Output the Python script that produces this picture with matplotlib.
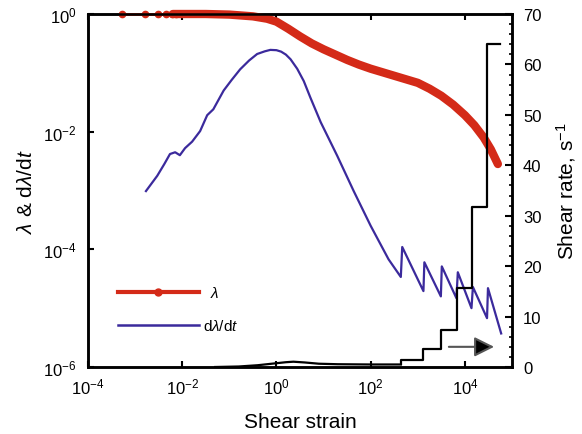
import numpy as np
import matplotlib
matplotlib.use("Agg")
import matplotlib.pyplot as plt
from matplotlib.lines import Line2D

plt.rcParams['font.family'] = ['Liberation Sans', 'DejaVu Sans']
plt.rcParams['mathtext.fontset'] = 'custom'
plt.rcParams['mathtext.rm'] = 'Liberation Sans'
plt.rcParams['mathtext.it'] = 'Liberation Sans:italic'
plt.rcParams['mathtext.bf'] = 'Liberation Sans:bold'

# ---- data (log10 values) ----
# lambda: sparse early samples (markers) and dense part (thick band)
lam_mark_strain = [5.2e-4, 1.6e-3, 3.1e-3, 4.6e-3, 6.2e-3, 7.4e-3]
lam_logx = [-3.28, -2.5, -2.2, -1.5, -1.0, -0.5, -0.2, 0.0, 0.25, 0.5, 0.75,
            1.0, 1.25, 1.5, 1.75, 2.0, 2.5, 3.0, 3.25, 3.5, 3.75, 4.0, 4.2, 4.4, 4.55, 4.7]
lam_logy = [0.0, 0.0, 0.0, 0.0, -0.01, -0.04, -0.08, -0.13, -0.25, -0.38, -0.5,
            -0.6, -0.69, -0.78, -0.86, -0.93, -1.05, -1.17, -1.27, -1.39, -1.54, -1.72,
            -1.89, -2.1, -2.3, -2.55]

# dlambda/dt
dl_logx = [-2.77, -2.53, -2.38, -2.26, -2.15, -2.05, -1.94, -1.79, -1.62, -1.47,
           -1.34, -1.12, -0.95, -0.77, -0.58, -0.41, -0.25, -0.13, 0.0, 0.1,
           0.2, 0.3, 0.44, 0.58, 0.72, 0.94, 1.29, 1.64, 2.0, 2.38, 2.64,
           2.67, 3.12, 3.14, 3.49, 3.51, 3.82, 3.85, 4.14, 4.17, 4.47, 4.49, 4.77]
dl_logy = [-3.01, -2.75, -2.55, -2.38, -2.35, -2.40, -2.28, -2.17, -1.99, -1.72,
           -1.62, -1.30, -1.12, -0.94, -0.79, -0.68, -0.635, -0.61, -0.615, -0.64,
           -0.69, -0.77, -0.93, -1.14, -1.42, -1.84, -2.41, -3.01, -3.60, -4.17, -4.47,
           -3.96, -4.71, -4.22, -4.80, -4.29, -4.83, -4.39, -5.00, -4.64, -5.17, -4.66, -5.43]

# shear rate (right axis)
rate_logx = [-1.3, -0.8, -0.4, -0.1, 0.2, 0.36, 0.6, 0.9, 1.3, 2.0, 2.64]
rate_vals = [0.0, 0.1, 0.35, 0.65, 0.95, 1.05, 0.9, 0.65, 0.55, 0.5, 0.5]
step_logx = [2.64, 2.64, 3.12, 3.49, 3.83, 4.15, 4.47, 4.75]
step_vals = [0.5, 1.3, 3.5, 7.4, 15.7, 31.7, 64.0, 64.0]

arrow_logx = [3.66, 4.62]
arrow_rate = 4.0

xticks = [1e-4, 1e-2, 1e0, 1e2, 1e4]
yticks = [1e-6, 1e-4, 1e-2, 1e0]
rticks = [0, 10, 20, 30, 40, 50, 60, 70]

RED = '#d42a18'
BLUE = '#3b2a9c'

fig = plt.figure(figsize=(5.82, 4.35), dpi=100)
ax = fig.add_axes([88/582, 1-368/435, (512-88)/582, (368-15)/435])
ax2 = ax.twinx()

lx = 10**np.array(lam_logx)
ly = 10**np.array(lam_logy)
# thin line + sparse markers
ax.plot(lx[:3], ly[:3], color=RED, lw=2.0, clip_on=False, zorder=3)
mark_y = 10**np.interp(np.log10(lam_mark_strain), lam_logx, lam_logy)
ax.plot(lam_mark_strain, mark_y, ls='none', marker='o', ms=4.5, color=RED,
        clip_on=False, zorder=3)
# dense part rendered as thick band
ax.plot(lx[2:], ly[2:], color=RED, lw=6.0, solid_capstyle='round',
        solid_joinstyle='round', clip_on=False, zorder=3)

ax.plot(10**np.array(dl_logx), 10**np.array(dl_logy), color=BLUE, lw=1.6,
        solid_joinstyle='round', zorder=2)

ax2.plot(10**np.array(rate_logx), rate_vals, color='black', lw=1.6,
         solid_joinstyle='round')
ax2.step(10**np.array(step_logx), step_vals, where='post', color='black', lw=1.6)

ax2.annotate('', xy=(10**arrow_logx[1], arrow_rate), xytext=(10**arrow_logx[0], arrow_rate),
             arrowprops=dict(arrowstyle='-|>,head_length=0.6,head_width=0.3',
                             mutation_scale=20, ec='#555555', fc='black', lw=1.5,
                             shrinkA=0, shrinkB=0))

ax.set_xscale('log')
ax.set_yscale('log')
ax.set_xlim(1e-4, 1e5)
ax.set_ylim(1e-6, 1e0)
ax2.set_ylim(0, 70)
ax.set_xticks(xticks)
ax.set_yticks(yticks)
ax.minorticks_off()
ax2.set_yticks(rticks)
ax2.set_yticks(np.arange(0, 71, 2), minor=True)

for a in (ax, ax2):
    for s in a.spines.values():
        s.set_linewidth(1.8)
ax.tick_params(axis='both', which='major', direction='in', length=4, width=1.5,
               labelsize=12, top=True, pad=8)
ax.tick_params(axis='x', pad=7)
ax2.tick_params(axis='y', which='major', direction='in', length=5, width=1.5,
                labelsize=12, pad=8)
ax2.tick_params(axis='y', which='minor', direction='in', length=2.5, width=1.2)

ax.set_xlabel('Shear strain', fontsize=15, labelpad=11)
ax.set_ylabel(r'$\lambda$ & d$\lambda$/d$t$', fontsize=15, labelpad=5)
ax2.set_ylabel(r'Shear rate, s$^{-1}$', fontsize=15, labelpad=9)

h1 = Line2D([], [], color=RED, lw=3, marker='o', ms=5)
h2 = Line2D([], [], color=BLUE, lw=1.8)
leg = ax.legend([h1, h2], [r'$\;\;\lambda$', r'd$\lambda$/d$t$'], loc='upper left',
                bbox_to_anchor=(0.07, 0.232), frameon=False, fontsize=11,
                handlelength=5.3, handletextpad=0.3, labelspacing=1.2,
                borderpad=0, borderaxespad=0)

fig.savefig('out.png', dpi=100)
